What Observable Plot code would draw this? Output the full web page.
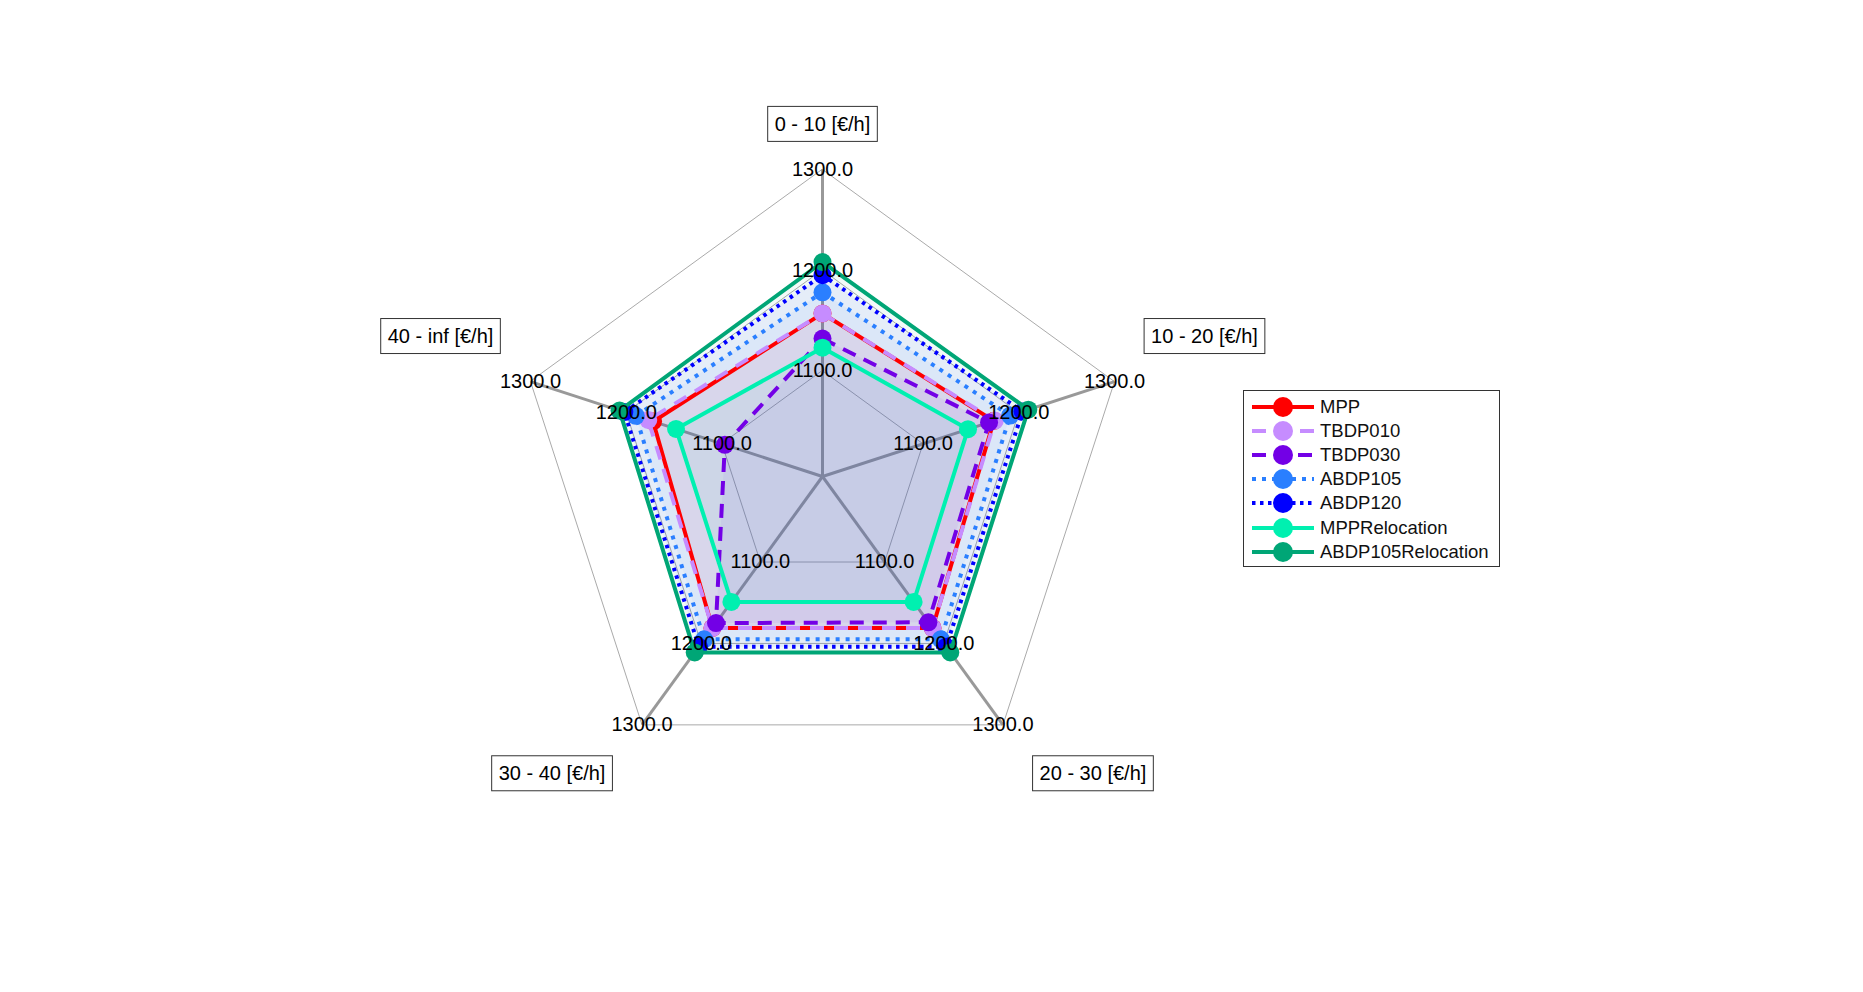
<!DOCTYPE html>
<html><head><meta charset="utf-8">
<script src="https://cdn.jsdelivr.net/npm/d3@7"></script>
<script src="https://cdn.jsdelivr.net/npm/@observablehq/plot@0.6"></script>
<style>
html,body{margin:0;padding:0;background:#fff;}
#wrap{position:relative;width:1863px;height:992px;font-family:"Liberation Sans",Arial,Helvetica,sans-serif;}
#legend{position:absolute;left:1243px;top:390px;width:257px;height:177px;border:1px solid #333;box-sizing:border-box;background:#fff;padding-top:3.5px;}
.row{display:flex;align-items:center;height:24.2px;font-size:18.5px;color:#111;white-space:nowrap;}
.row svg{margin-left:8px;margin-right:6px;flex:none;}
</style></head><body>
<div id="wrap"><div id="chart"></div><div id="legend"></div></div>
<script>
// ---- data ----
const categories = ["0 - 10 [€/h]", "10 - 20 [€/h]", "20 - 30 [€/h]", "30 - 40 [€/h]", "40 - inf [€/h]"];
const seriesNames = ["MPP", "TBDP010", "TBDP030", "ABDP105", "ABDP120", "MPPRelocation", "ABDP105Relocation"];
const MPP               = [1157, 1174, 1181, 1181, 1172];
const TBDP010           = [1157, 1175, 1181, 1181, 1177];
const TBDP030           = [1132, 1169, 1174, 1175, 1097];
const ABDP105           = [1178, 1191, 1195, 1195, 1190];
const ABDP120           = [1195, 1204, 1204, 1204, 1202];
const MPPRelocation     = [1123, 1147, 1149, 1149, 1148];
const ABDP105Relocation = [1208, 1210, 1211, 1211, 1207];
const seriesValues = [MPP, TBDP010, TBDP030, ABDP105, ABDP120, MPPRelocation, ABDP105Relocation];
const tickValues = [1100, 1200, 1300];
const tickLabels = ["1100.0", "1200.0", "1300.0"];
const radialDomain = [995, 1300];

// ---- styles ----
const seriesColors = ["#ff0000", "#c68cff", "#7300e6", "#2a7fff", "#0000ff", "#00f0b0", "#00a676"];
const seriesDash = [null, "14,10", "14,9", "4,6", "3.5,4.5", null, null];
const seriesWidth = [4, 4, 4, 4, 4, 4, 4];
const fillAlpha = 0.05;

// ---- geometry ----
const n = categories.length;
const ang = i => 2 * Math.PI * i / n;
const rad = d3.scaleLinear(radialDomain, [0, 1]);
const px = (v, i) => rad(v) * Math.sin(ang(i));
const py = (v, i) => rad(v) * Math.cos(ang(i));

const W = 1863, H = 992, CX = 822, CY = 476, R = 307;

const polys = seriesNames.map((name, k) => seriesValues[k].map((v, i) => ({series: name, x: px(v, i), y: py(v, i)})));
const rings = tickValues.flatMap(t => categories.map((c, i) => ({ring: t, x: px(t, i), y: py(t, i)})));
const spokes = categories.map((c, i) => ({x1: px(radialDomain[0], i), y1: py(radialDomain[0], i), x2: px(tickValues[2], i), y2: py(tickValues[2], i)}));
const tickPts = tickValues.flatMap((t, j) => categories.map((c, i) => ({label: tickLabels[j], x: px(t, i), y: py(t, i)})));
const catPts = categories.map((c, i) => {
  const s = Math.sin(ang(i)), co = Math.cos(ang(i));
  return {label: c, x: px(radialDomain[1], i), y: py(radialDomain[1], i),
          dx: Math.abs(s) < 1e-6 ? 0 : Math.sign(s) * 90,
          dy: co > 0 ? -45 : 49};
});

const marks = [
  Plot.line(rings, {x: "x", y: "y", z: "ring", curve: "linear-closed", stroke: "#aaaaaa", strokeWidth: 1}),
  Plot.link(spokes, {x1: "x1", y1: "y1", x2: "x2", y2: "y2", stroke: "#999999", strokeWidth: 3})
];
polys.forEach((p, k) => marks.push(Plot.line(p, {x: "x", y: "y", curve: "linear-closed", stroke: "none", fill: seriesColors[k], fillOpacity: fillAlpha})));
polys.forEach((p, k) => {
  marks.push(Plot.line(p, {x: "x", y: "y", curve: "linear-closed", stroke: seriesColors[k], strokeWidth: seriesWidth[k],
    strokeDasharray: seriesDash[k] || undefined, strokeLinejoin: "miter", strokeLinecap: "butt"}));
  marks.push(Plot.dot(p, {x: "x", y: "y", r: 9, fill: seriesColors[k], stroke: "none"}));
});
marks.push(Plot.text(tickPts, {x: "x", y: "y", text: "label", fontSize: 20, fill: "black"}));
catPts.forEach(d => marks.push(Plot.text([d], {x: "x", y: "y", text: "label", dx: d.dx, dy: d.dy, fontSize: 20, fill: "black"})));

const chart = Plot.plot({
  width: W, height: H, margin: 0,
  style: {fontFamily: '"Liberation Sans", Arial, Helvetica, sans-serif', fontSize: "20px", background: "white", overflow: "visible"},
  x: {domain: [-CX / R, (W - CX) / R], range: [0, W], axis: null},
  y: {domain: [-(H - CY) / R, CY / R], range: [H, 0], axis: null},
  marks
});
document.getElementById("chart").appendChild(chart);

// boxes around category labels
chart.querySelectorAll("text").forEach(t => {
  if (categories.includes(t.textContent)) {
    const b = t.getBBox();
    const rect = document.createElementNS("http://www.w3.org/2000/svg", "rect");
    rect.setAttribute("x", b.x - 7); rect.setAttribute("y", b.y - 6.5);
    rect.setAttribute("width", b.width + 14); rect.setAttribute("height", b.height + 13);
    rect.setAttribute("fill", "white"); rect.setAttribute("stroke", "#333"); rect.setAttribute("stroke-width", 1);
    const tr = t.getAttribute("transform");
    if (tr) rect.setAttribute("transform", tr);
    t.parentNode.insertBefore(rect, t);
  }
});

// legend
const leg = document.getElementById("legend");
seriesNames.forEach((name, k) => {
  const row = document.createElement("div"); row.className = "row";
  const dash = seriesDash[k] ? `stroke-dasharray="${seriesDash[k]}"` : "";
  row.innerHTML = `<svg width="62" height="22"><line x1="0" y1="11" x2="62" y2="11" stroke="${seriesColors[k]}" stroke-width="4" ${dash}/><circle cx="31" cy="11" r="10" fill="${seriesColors[k]}"/></svg><span>${name}</span>`;
  leg.appendChild(row);
});
</script></body></html>
